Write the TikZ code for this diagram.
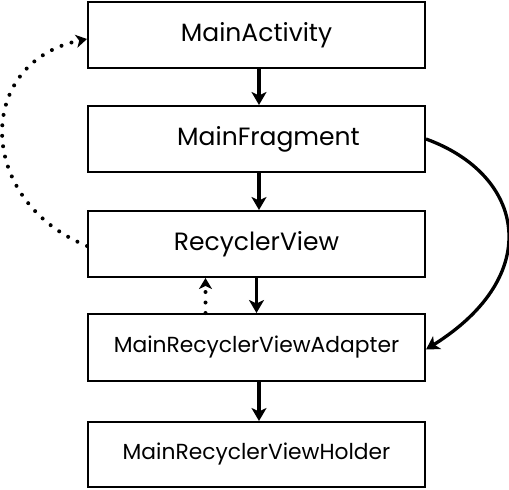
\documentclass[tikz,border=0pt]{standalone}
\usepackage{fontspec}
\setmainfont{Poppins}
\usetikzlibrary{arrows.meta}
\begin{document}
\begin{tikzpicture}[x=1pt,y=-1pt,
  box/.style={draw=black,line width=2pt,minimum width=337pt,minimum height=66pt,inner sep=0pt,fill=white},
  big/.style={font=\fontsize{25}{28}\selectfont},
  small/.style={font=\fontsize{21.8}{24}\selectfont},
  arr/.style={line width=3.3pt,-{Stealth[length=13pt,width=15pt,inset=3.5pt]}},
  dotline/.style={line width=4pt,line cap=round,dash pattern=on 0pt off 10.5pt,-{Stealth[length=11pt,width=13pt,inset=3pt]}}
]
\useasboundingbox (0,0) rectangle (509,490);
\node[box,big] (act) at (256.5,35) {MainActivity};
\node[box,big] (frag) at (256.5,139) {\hspace{24pt}MainFragment};
\node[box,big] (rv) at (256.5,244) {RecyclerView};
\node[box,small,minimum height=67pt] (adp) at (256.5,347.5) {MainRecyclerViewAdapter};
\node[box,small,minimum height=65pt] (hld) at (256.5,454.5) {MainRecyclerViewHolder};
\draw[arr] ([xshift=2.5pt]act.south) -- ([xshift=2.5pt]frag.north);
\draw[arr] ([xshift=2.5pt]frag.south) -- ([xshift=2.5pt]rv.north);
\draw[arr] ([xshift=0pt]rv.south) -- ([xshift=0pt]adp.north);
\draw[arr] ([xshift=2.5pt]adp.south) -- ([xshift=2.5pt]hld.north);
\draw[dotline] ([xshift=-51pt]adp.north) -- ([xshift=-51pt]rv.south);
\draw[dotline] ([yshift=-2pt]rv.west) .. controls (-25,200) and (-25,62) .. ([yshift=-4pt]act.west);
\draw[arr] (frag.east) .. controls (525,175) and (545,275) .. ([yshift=-2pt]adp.east);
\end{tikzpicture}
\end{document}
